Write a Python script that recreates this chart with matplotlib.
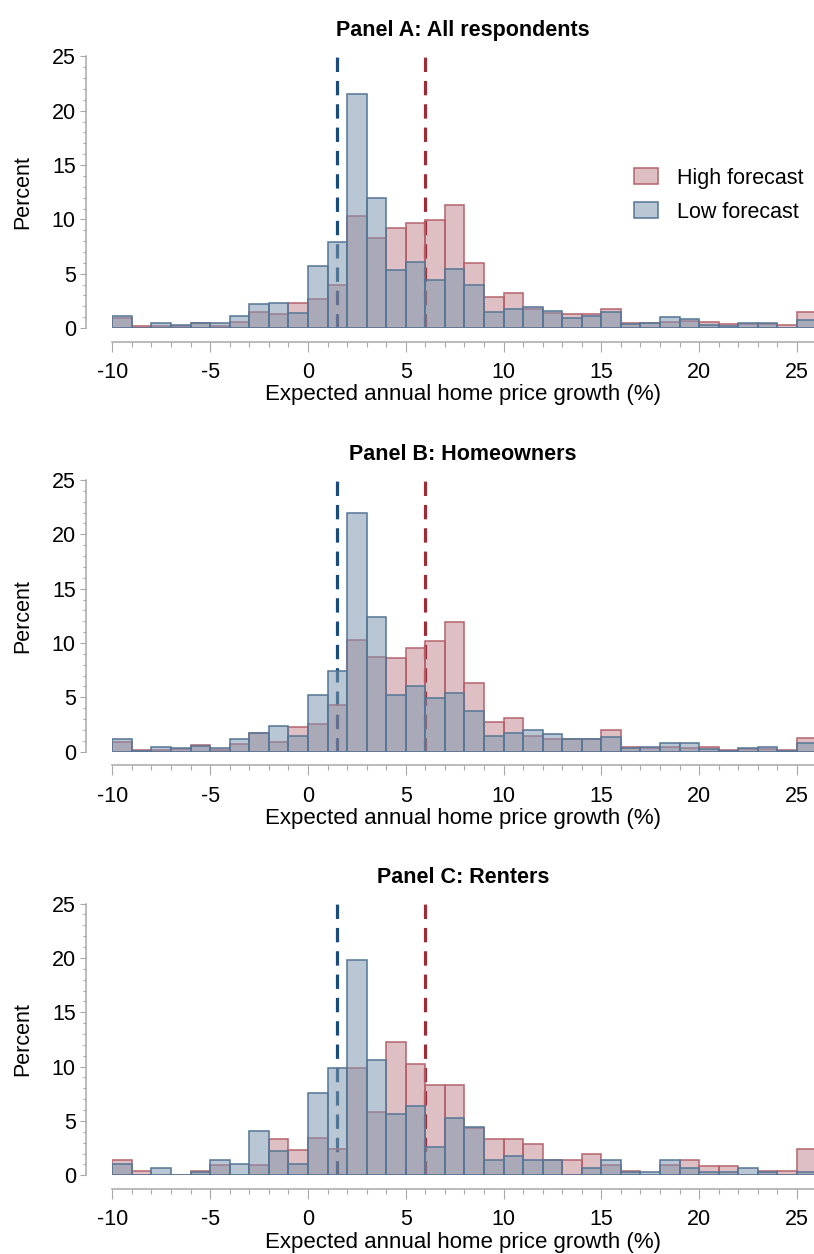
import matplotlib
matplotlib.use('Agg')
import matplotlib.pyplot as plt
from matplotlib.ticker import MultipleLocator
import numpy as np

plt.rcParams['font.family'] = ['Liberation Sans', 'DejaVu Sans']
plt.rcParams['axes.unicode_minus'] = False

# left edges of the 1-point bins, -10 .. 25
bins = np.arange(-10, 26)

# Panel A: all respondents (percent)
a_high = [0.9, 0.2, 0.15, 0.2, 0.45, 0.2, 0.55, 1.5, 1.3, 2.3, 2.7, 4.0, 10.3, 8.25,
          9.2, 9.7, 9.9, 11.35, 6.0, 2.85, 3.2, 1.75, 1.4, 1.3, 1.25, 1.75, 0.5, 0.45,
          0.6, 0.65, 0.55, 0.37, 0.37, 0.37, 0.28, 1.45]
a_low = [1.1, 0.05, 0.5, 0.25, 0.5, 0.5, 1.07, 2.25, 2.27, 1.35, 5.75, 7.95, 21.5, 12.0,
         5.3, 6.1, 4.45, 5.43, 3.93, 1.5, 1.75, 1.93, 1.6, 0.95, 1.13, 1.44, 0.4, 0.5,
         1.0, 0.83, 0.3, 0.2, 0.43, 0.43, 0.05, 0.74]

# Panel B: homeowners
b_high = [0.89, 0.12, 0.15, 0.2, 0.58, 0.15, 0.67, 1.68, 0.86, 2.27, 2.55, 4.26, 10.3, 8.7,
          8.6, 9.5, 10.2, 11.9, 6.3, 2.7, 3.1, 1.41, 1.2, 1.17, 1.17, 1.96, 0.46, 0.37,
          0.4, 0.3, 0.46, 0.18, 0.2, 0.28, 0.18, 1.23]
b_low = [1.13, 0.03, 0.4, 0.3, 0.5, 0.3, 1.13, 1.72, 2.33, 1.41, 5.2, 7.42, 21.96, 12.36,
         5.2, 6.0, 4.9, 5.4, 3.7, 1.47, 1.72, 2.0, 1.6, 1.2, 1.2, 1.38, 0.3, 0.46,
         0.8, 0.8, 0.21, 0.06, 0.3, 0.4, 0.06, 0.83]

# Panel C: renters
c_high = [1.41, 0.43, 0.0, 0.0, 0.43, 0.92, 0.0, 0.92, 3.37, 2.36, 3.4, 2.39, 9.85, 5.86,
          12.3, 10.28, 8.31, 8.31, 4.39, 3.37, 3.37, 2.91, 1.38, 1.41, 1.93, 0.92, 0.43, 0.0,
          0.92, 1.38, 0.89, 0.89, 0.0, 0.43, 0.4, 2.39]
c_low = [1.07, 0.0, 0.7, 0.0, 0.31, 1.44, 1.07, 4.1, 2.2, 1.07, 7.58, 9.88, 19.8, 10.64,
         5.64, 6.41, 2.58, 5.3, 4.48, 1.41, 1.81, 1.41, 1.41, 0.0, 0.67, 1.44, 0.28, 0.34,
         1.44, 0.67, 0.31, 0.31, 0.7, 0.28, 0.0, 0.31]

panels = [
    ("Panel A: All respondents", a_high, a_low),
    ("Panel B: Homeowners", b_high, b_low),
    ("Panel C: Renters", c_high, c_low),
]

low_mark = 1.5
high_mark = 6.0

red_fill = (148/255, 45/255, 58/255, 0.30)
red_edge = (0.71, 0.39, 0.43)
blue_fill = (128/255, 151/255, 175/255, 0.55)
blue_edge = (0.33, 0.46, 0.59)
red_line = '#9b2d37'
blue_line = '#1b4b7b'
axis_grey = '#a8a8a8'

fig = plt.figure(figsize=(8.14, 12.54), dpi=100)
bottoms = [0.7384, 0.4006, 0.0628]

for (title, high, low), bot in zip(panels, bottoms):
    ax = fig.add_axes([0.138, bot, 0.862, 0.2166])

    # dashed reference lines sit behind the bars
    ax.plot([low_mark, low_mark], [0, 25], color=blue_line, lw=2.3,
            dashes=(4.5, 2.8), zorder=1)
    ax.plot([high_mark, high_mark], [0, 25], color=red_line, lw=2.3,
            dashes=(4.5, 2.8), zorder=1)

    ax.bar(bins, high, width=1, align='edge', facecolor=red_fill,
           edgecolor=red_edge, linewidth=1.1, label='High forecast', zorder=2)
    ax.bar(bins, low, width=1, align='edge', facecolor=blue_fill,
           edgecolor=blue_edge, linewidth=1.1, label='Low forecast', zorder=3)

    ax.set_xlim(-10, 25.87)
    ax.set_ylim(0, 25)
    ax.set_xticks([-10, -5, 0, 5, 10, 15, 20, 25])
    ax.set_yticks([0, 5, 10, 15, 20, 25])
    ax.xaxis.set_minor_locator(MultipleLocator(1))
    ax.yaxis.set_minor_locator(MultipleLocator(1))

    for s in ['top', 'right']:
        ax.spines[s].set_visible(False)
    ax.spines['left'].set_position(('outward', 19))
    ax.spines['bottom'].set_position(('outward', 9.7))
    for s in ['left', 'bottom']:
        ax.spines[s].set_color(axis_grey)
        ax.spines[s].set_linewidth(1.1)

    ax.tick_params(axis='x', which='major', length=7.2, width=0.8, color=axis_grey,
                   labelsize=15.5, pad=7.5)
    ax.tick_params(axis='x', which='minor', length=3.6, width=0.8, color=axis_grey)
    ax.tick_params(axis='y', which='major', length=4.3, width=0.8, color=axis_grey,
                   labelsize=15.5, pad=3)
    ax.tick_params(axis='y', which='minor', length=2.2, width=0.8, color=axis_grey)

    ax.set_xlabel("Expected annual home price growth (%)", fontsize=16, labelpad=1)
    ax.set_ylabel("Percent", fontsize=15.5, labelpad=13)
    ax.set_title(title, fontsize=15.5, fontweight='bold', pad=14.5)

    if title.startswith("Panel A"):
        ax.legend(loc='upper left', bbox_to_anchor=(0.743, 0.59), frameon=False,
                  fontsize=15.5, handlelength=1.15, handleheight=0.74,
                  handletextpad=0.84, labelspacing=0.6, borderpad=0,
                  borderaxespad=0)

fig.savefig('out.png', dpi=100)
